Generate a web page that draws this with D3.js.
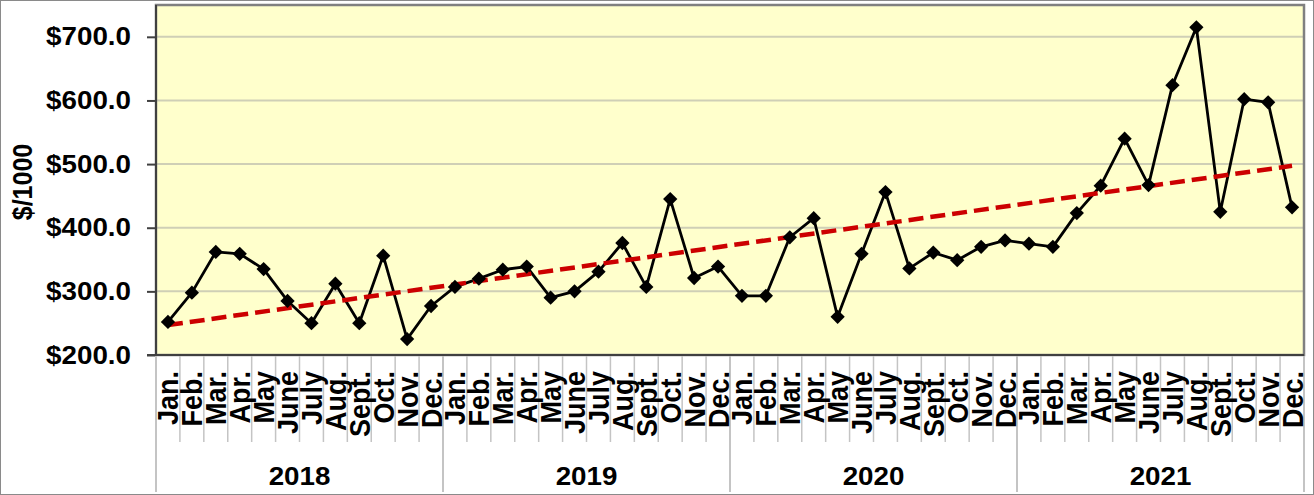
<!DOCTYPE html>
<html>
<head>
<meta charset="utf-8">
<script src="https://cdn.jsdelivr.net/npm/d3@7"></script>
<style>
  body { margin: 0; background: #fff; }
  text { font-family: Arial, "Liberation Sans", sans-serif; font-weight: bold; fill: #000; }
</style>
</head>
<body>
<script>
// chart data
var years = ["2018", "2019", "2020", "2021"];
var months = ["Jan.", "Feb.", "Mar.", "Apr.", "May", "June", "July", "Aug.", "Sept.", "Oct.", "Nov.", "Dec."];
var values2018 = [252, 298, 362, 359, 335, 285, 250, 312, 250, 356, 225, 277];
var values2019 = [307, 320, 334, 339, 290, 300, 331, 376, 307, 445, 321, 339];
var values2020 = [293, 293, 385, 415, 260, 359, 456, 336, 361, 349, 370, 380];
var values2021 = [375, 370, 423, 466, 540, 467, 624, 715, 425, 602, 597, 432];
var yTicks = [200, 300, 400, 500, 600, 700];
var yTitle = "$/1000";

function drawChart() {
  var w = 1314, h = 495;
  var left = 156, right = 1304, top = 5, bottom = 355;
  var sx = 1.11; // text is a little wider than tall in the original

  var series = [].concat(values2018, values2019, values2020, values2021);
  var dataset = series.map(function(v, i) {
    return { i: i, v: v, month: months[i % 12], year: years[Math.floor(i / 12)] };
  });

  var svg = d3.select("body").append("svg")
    .attr("width", w)
    .attr("height", h);

  // outer border
  svg.append("rect")
    .attr("x", 0.5).attr("y", 0.5)
    .attr("width", w - 1).attr("height", h - 1)
    .attr("fill", "none")
    .attr("stroke", "#8a8a8a");

  var xScale = d3.scaleBand()
    .domain(d3.range(series.length))
    .range([left, right]);

  var yScale = d3.scaleLinear()
    .domain([200, 750])
    .range([bottom, top]);

  var cx = function(i) { return xScale(i) + xScale.bandwidth() / 2; };

  // plot background
  svg.append("rect")
    .attr("x", left).attr("y", top)
    .attr("width", right - left).attr("height", bottom - top)
    .attr("fill", "#FFFFCC");

  // grid lines
  svg.append("g").selectAll("line")
    .data(yTicks.filter(function(d) { return d > 200; }))
    .enter().append("line")
    .attr("x1", left).attr("x2", right)
    .attr("y1", function(d) { return yScale(d); })
    .attr("y2", function(d) { return yScale(d); })
    .attr("stroke", "#cfcfb6")
    .attr("stroke-width", 2);

  // plot border
  svg.append("rect")
    .attr("x", left).attr("y", top)
    .attr("width", right - left).attr("height", bottom - top)
    .attr("fill", "none")
    .attr("stroke", "#808080")
    .attr("stroke-width", 2.5);
  svg.append("line")
    .attr("x1", left).attr("x2", left).attr("y1", top).attr("y2", bottom)
    .attr("stroke", "#404040").attr("stroke-width", 2);
  svg.append("line")
    .attr("x1", left - 9).attr("x2", right).attr("y1", bottom).attr("y2", bottom)
    .attr("stroke", "#404040").attr("stroke-width", 2);

  // y axis
  var yAxis = d3.axisLeft(yScale)
    .tickValues(yTicks)
    .tickSize(9)
    .tickFormat(function(d) { return "$" + d.toFixed(1); });
  var yg = svg.append("g")
    .attr("transform", "translate(" + left + ",0)")
    .call(yAxis);
  yg.select(".domain").remove();
  yg.selectAll(".tick line").attr("stroke", "#404040").attr("stroke-width", 2);
  yg.selectAll(".tick text")
    .attr("x", null)
    .attr("transform", "translate(-25,0) scale(" + sx + ",1)")
    .style("font-size", "25px")
    .style("font-family", "Arial, 'Liberation Sans', sans-serif")
    .style("font-weight", "bold")
    .attr("fill", "#000");

  // y title
  svg.append("text")
    .attr("transform", "translate(32,182) scale(" + sx + ",1) rotate(-90)")
    .attr("text-anchor", "middle")
    .style("font-size", "25px")
    .text(yTitle);

  // category separators
  var bounds = d3.range(series.length + 1);
  svg.append("g").selectAll("line")
    .data(bounds)
    .enter().append("line")
    .attr("x1", function(i) { return i < series.length ? xScale(i) : right; })
    .attr("x2", function(i) { return i < series.length ? xScale(i) : right; })
    .attr("y1", bottom + 1)
    .attr("y2", function(i) { return i % 12 === 0 ? 492 : 442; })
    .attr("stroke", "#c4c4c4")
    .attr("stroke-width", function(i) { return i % 12 === 0 ? 2 : 1.5; });

  // month labels
  svg.append("g").selectAll("text")
    .data(dataset)
    .enter().append("text")
    .attr("transform", function(d) {
      return "translate(" + (cx(d.i) + 10.5) + ",371) scale(" + sx + ",1) rotate(-90)";
    })
    .attr("text-anchor", "end")
    .style("font-size", "27px")
    .text(function(d) { return d.month; });

  // year labels
  svg.append("g").selectAll("text")
    .data(years)
    .enter().append("text")
    .attr("transform", function(d, k) {
      var mid = (xScale(k * 12) + (k === years.length - 1 ? right : xScale(k * 12 + 12))) / 2;
      return "translate(" + mid + ",485) scale(" + sx + ",1)";
    })
    .attr("text-anchor", "middle")
    .style("font-size", "25px")
    .text(function(d) { return d; });

  // data line
  var line = d3.line()
    .x(function(d) { return cx(d.i); })
    .y(function(d) { return yScale(d.v); });
  svg.append("path")
    .datum(dataset)
    .attr("d", line)
    .attr("fill", "none")
    .attr("stroke", "#000")
    .attr("stroke-width", 2.8)
    .attr("stroke-linejoin", "round");

  // linear trend line
  var n = dataset.length;
  var mx = d3.mean(dataset, function(d) { return d.i; });
  var my = d3.mean(dataset, function(d) { return d.v; });
  var slope = d3.sum(dataset, function(d) { return (d.i - mx) * (d.v - my); }) /
              d3.sum(dataset, function(d) { return (d.i - mx) * (d.i - mx); });
  var icpt = my - slope * mx;
  var trend = [0, n - 1].map(function(i) { return { i: i, v: icpt + slope * i }; });
  svg.append("path")
    .datum(trend)
    .attr("d", line)
    .attr("fill", "none")
    .attr("stroke", "#CC0000")
    .attr("stroke-width", 4.5)
    .attr("stroke-dasharray", "15,7");

  // diamond markers
  var diamond = d3.symbol().type(d3.symbolSquare).size(102);
  svg.append("g").selectAll("path")
    .data(dataset)
    .enter().append("path")
    .attr("d", diamond)
    .attr("transform", function(d) {
      return "translate(" + cx(d.i) + "," + yScale(d.v) + ") rotate(45)";
    })
    .attr("fill", "#000");
}

window.onload = function() {
  drawChart();
};
</script>
</body>
</html>
